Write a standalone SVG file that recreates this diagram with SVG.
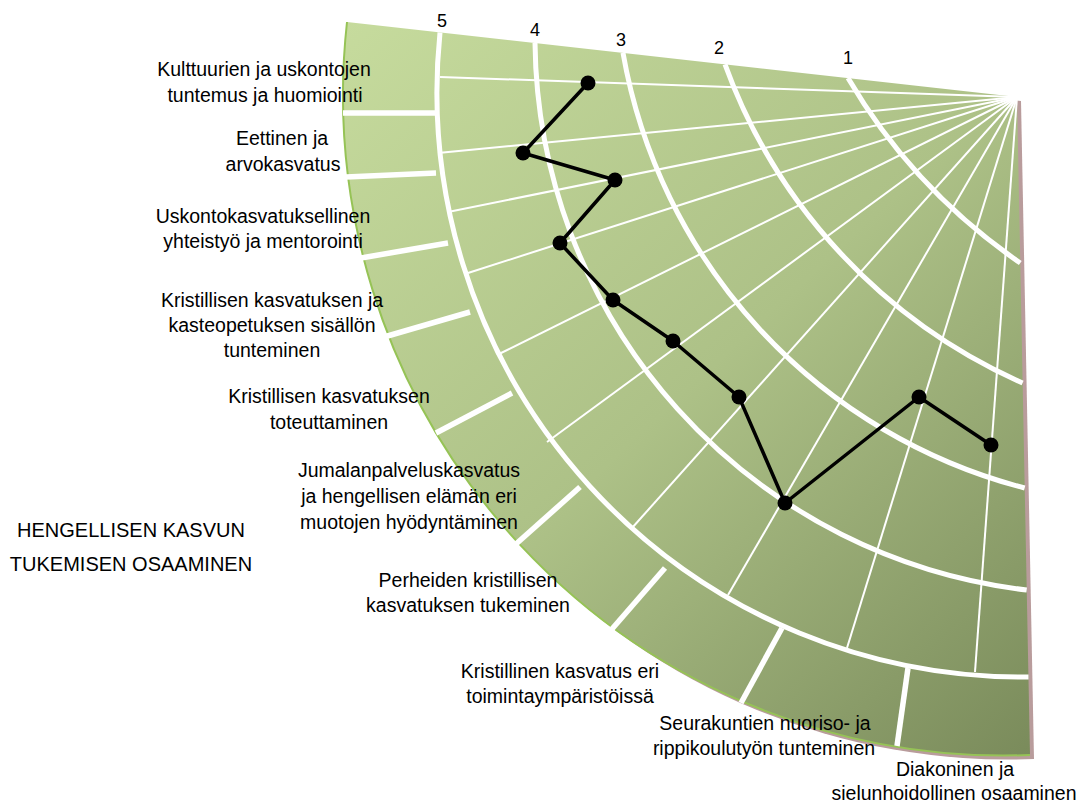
<svg xmlns="http://www.w3.org/2000/svg" width="1081" height="803" viewBox="0 0 1081 803">
<defs>
<linearGradient id="fanFill" gradientUnits="userSpaceOnUse" x1="347" y1="22" x2="1030" y2="755">
<stop offset="0" stop-color="#c6db9d"/>
<stop offset="0.5" stop-color="#adc187"/>
<stop offset="1" stop-color="#7a8b5b"/>
</linearGradient>
<style>
.ring{fill:none;stroke:#ffffff;stroke-width:5}
.spoke{stroke:#ffffff;stroke-width:2}
.sep{stroke:#ffffff;stroke-width:5.5}
.lbl{font-family:"Liberation Sans",Arial,sans-serif;font-size:19.5px;fill:#000;text-anchor:middle}
.num{font-family:"Liberation Sans",Arial,sans-serif;font-size:18px;fill:#000;text-anchor:middle}
.title{font-family:"Liberation Sans",Arial,sans-serif;font-size:20px;fill:#000;text-anchor:middle}
.dot{fill:#000}
</style>
</defs>
<rect width="1081" height="803" fill="#ffffff"/>

<g id="fan">
<path d="M1017,97 L347,22 A661,661 0 0 0 1030,755 Z" fill="#b99c9c" transform="translate(4,4)"/>
<path d="M1017,97 L347,22 A661,661 0 0 0 1030,755 Z" fill="url(#fanFill)"/>
<path d="M347,22 A661,661 0 0 0 1030,755" fill="none" stroke="#96c356" stroke-width="2"/>
</g>

<g id="spokes">
<line class="spoke" x1="1017" y1="97" x2="440" y2="77"/>
<line class="spoke" x1="1017" y1="97" x2="438" y2="153"/>
<line class="spoke" x1="1017" y1="97" x2="448" y2="212"/>
<line class="spoke" x1="1017" y1="97" x2="468" y2="273"/>
<line class="spoke" x1="1017" y1="97" x2="497" y2="355"/>
<line class="spoke" x1="1017" y1="97" x2="547" y2="442"/>
<line class="spoke" x1="1017" y1="97" x2="632" y2="528"/>
<line class="spoke" x1="1017" y1="97" x2="728" y2="595"/>
<line class="spoke" x1="1017" y1="97" x2="847" y2="648"/>
<line class="spoke" x1="1017" y1="97" x2="975" y2="672"/>
</g>

<g id="rings">
<path class="ring" d="M848,78.1 A581,581 0 0 0 1020.3,263"/>
<path class="ring" d="M725,64.3 A556,556 0 0 0 1022.6,383"/>
<path class="ring" d="M623,52.9 A547,547 0 0 0 1024.7,488"/>
<path class="ring" d="M535,43 A557,557 0 0 0 1026.7,590"/>
<path class="ring" d="M440,32.4 A585,585 0 0 0 1028.5,677"/>
</g>

<g id="separators">
<line class="sep" x1="436" y1="113" x2="343" y2="113"/>
<line class="sep" x1="436" y1="173" x2="346" y2="177"/>
<line class="sep" x1="448" y1="243" x2="361" y2="258"/>
<line class="sep" x1="470" y1="312" x2="384" y2="337"/>
<line class="sep" x1="512" y1="393" x2="436" y2="433"/>
<line class="sep" x1="580" y1="487" x2="516" y2="544"/>
<line class="sep" x1="665" y1="568" x2="612" y2="629"/>
<line class="sep" x1="782" y1="628" x2="741" y2="703"/>
<line class="sep" x1="908" y1="668" x2="897" y2="746"/>
</g>

<g id="scale">
<text class="num" x="442" y="27">5</text>
<text class="num" x="535" y="36">4</text>
<text class="num" x="621" y="46">3</text>
<text class="num" x="719" y="54">2</text>
<text class="num" x="848" y="64">1</text>
</g>

<g id="connectors">
<polyline points="588,83 523,153 615,180 560,243 613,300 673,341 739,397 785,503 919,397 991,445" fill="none" stroke="#000" stroke-width="3.5" stroke-linejoin="round"/>
</g>

<g id="data-points">
<circle class="dot" cx="588" cy="83" r="7.5"/>
<circle class="dot" cx="523" cy="153" r="7.5"/>
<circle class="dot" cx="615" cy="180" r="7.5"/>
<circle class="dot" cx="560" cy="243" r="7.5"/>
<circle class="dot" cx="613" cy="300" r="7.5"/>
<circle class="dot" cx="673" cy="341" r="7.5"/>
<circle class="dot" cx="739" cy="397" r="7.5"/>
<circle class="dot" cx="785" cy="503" r="7.5"/>
<circle class="dot" cx="919" cy="397" r="7.5"/>
<circle class="dot" cx="991" cy="445" r="7.5"/>
</g>

<g id="title">
<text class="title" x="131" y="537">HENGELLISEN KASVUN</text>
<text class="title" x="131" y="571">TUKEMISEN OSAAMINEN</text>
</g>

<g id="cat1"><text class="lbl" x="264" y="76">Kulttuurien ja uskontojen</text><text class="lbl" x="265" y="102">tuntemus ja huomiointi</text></g>
<g id="cat2"><text class="lbl" x="282" y="145">Eettinen ja</text><text class="lbl" x="283" y="171">arvokasvatus</text></g>
<g id="cat3"><text class="lbl" x="263" y="223">Uskontokasvatuksellinen</text><text class="lbl" x="263" y="248">yhteistyö ja mentorointi</text></g>
<g id="cat4"><text class="lbl" x="272" y="307">Kristillisen kasvatuksen ja</text><text class="lbl" x="272" y="332">kasteopetuksen sisällön</text><text class="lbl" x="272" y="357">tunteminen</text></g>
<g id="cat5"><text class="lbl" x="329" y="403">Kristillisen kasvatuksen</text><text class="lbl" x="329" y="429">toteuttaminen</text></g>
<g id="cat6"><text class="lbl" x="409" y="477">Jumalanpalveluskasvatus</text><text class="lbl" x="409" y="503">ja hengellisen elämän eri</text><text class="lbl" x="409" y="529">muotojen hyödyntäminen</text></g>
<g id="cat7"><text class="lbl" x="468" y="587">Perheiden kristillisen</text><text class="lbl" x="468" y="612">kasvatuksen tukeminen</text></g>
<g id="cat8"><text class="lbl" x="560" y="678">Kristillinen kasvatus eri</text><text class="lbl" x="560" y="703">toimintaympäristöissä</text></g>
<g id="cat9"><text class="lbl" x="765" y="730">Seurakuntien nuoriso- ja</text><text class="lbl" x="764" y="755">rippikoulutyön tunteminen</text></g>
<g id="cat10"><text class="lbl" x="955" y="776">Diakoninen ja</text><text class="lbl" x="954" y="800">sielunhoidollinen osaaminen</text></g>
</svg>
